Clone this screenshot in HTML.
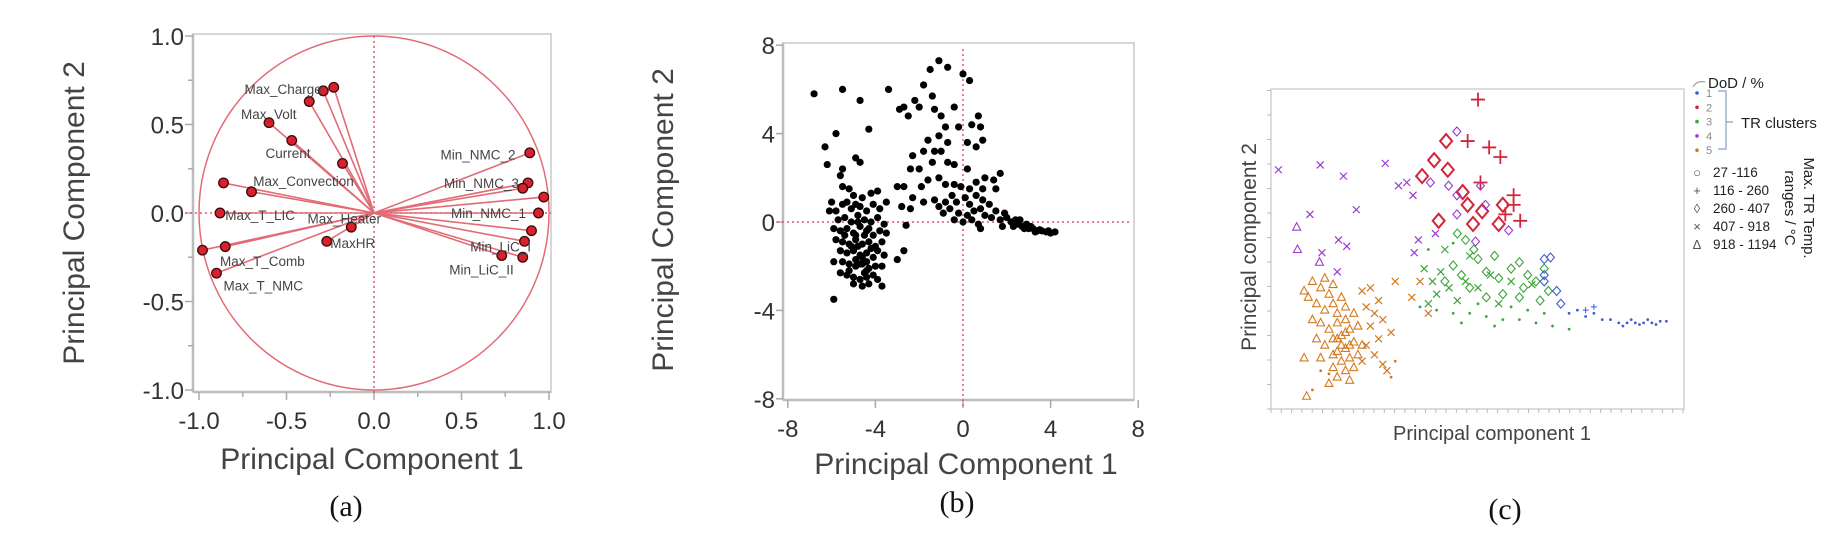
<!DOCTYPE html>
<html><head><meta charset="utf-8">
<style>
html,body{margin:0;padding:0;background:#fff;}
svg{display:block;font-family:"Liberation Sans",sans-serif;}
</style></head>
<body>
<svg id="fig" width="1843" height="536" viewBox="0 0 1843 536" xmlns="http://www.w3.org/2000/svg">
  <g id="pa"></g>
  <g id="pb"></g>
  <g id="pc"></g>
</svg>
<script>
// ---------- Panel (a) data ----------
const loadX = [-0.23,-0.29,-0.37,-0.60,-0.47,-0.18,-0.86,-0.70,-0.88,-0.98,-0.85,-0.90,-0.27,-0.13,0.89,0.88,0.85,0.97,0.94,0.90,0.86,0.85,0.73];
const loadY = [0.71,0.69,0.63,0.51,0.41,0.28,0.17,0.12,0.00,-0.21,-0.19,-0.34,-0.16,-0.08,0.34,0.17,0.14,0.09,0.00,-0.10,-0.16,-0.25,-0.24];
const varNames = ["Max_Charge","Max_Volt","Current","Max_Convection","Max_T_LIC","Max_Heater","MaxHR","Max_T_Comb","Max_T_NMC","Min_NMC_2","Min_NMC_3","Min_NMC_1","Min_LiC_I","Min_LiC_II"];
const varLabelX = [-0.74,-0.76,-0.62,-0.69,-0.85,-0.38,-0.25,-0.88,-0.86,0.38,0.40,0.44,0.55,0.43];
const varLabelY = [0.70,0.56,0.34,0.18,-0.01,-0.03,-0.17,-0.27,-0.41,0.33,0.17,0.00,-0.19,-0.32];
const aTicks = [-1.0,-0.5,0.0,0.5,1.0];
const aTickLabels = ["-1.0","-0.5","0.0","0.5","1.0"];

// ---------- Panel (b) data ----------
const scoreX = [-6.8,-5.5,-4.7,-5.8,-6.3,-6.2,-4.3,-4.9,-4.7,-5.5,-3.4,-5.9,
-1.1,-0.7,-1.5,0.0,0.3,-1.8,-1.4,-2.2,-2.9,-2.7,-2.5,-2.0,-1.3,-0.4,-1.0,0.7,0.4,0.8,-0.8,-0.2,-1.6,-1.1,0.9,-0.7,0.2,-1.8,-1.3,-1.0,0.6,-2.3,-1.4,-0.7,-0.4,-2.4,-2.0,0.2,1.7,1.0,-1.6,-1.1,1.4,-3.0,-2.7,-1.9,-0.8,-0.4,1.5,-2.3,-1.8,-2.8,-2.4,-1.3,-1.1,
-0.5,-0.3,0.1,0.3,0.5,0.2,-0.2,0.6,0.8,1.0,1.2,0.9,-0.6,-0.4,0.0,0.4,1.3,1.5,1.7,0.7,-0.8,-0.9,0.3,-0.1,0.6,0.9,1.9,1.8,0.8,
2.0,2.2,2.4,2.5,2.7,2.9,3.0,3.2,3.4,3.6,3.8,4.0,4.2,3.5,3.1,2.6,2.3,3.9,3.3,2.8,
-2.6,-2.7,-3.0,-3.5,-3.7,
-5.6,-5.5,-5.2,-5.0,-4.6,-4.2,-3.9,-6.0,-5.8,-5.5,-5.3,-5.1,-4.9,-4.7,-4.4,-4.1,-3.8,-5.7,-5.4,-5.1,-4.8,-4.5,-4.2,-3.9,-3.6,-5.9,-5.6,-5.3,-5.0,-4.7,-4.4,-4.1,-3.8,-5.8,-5.5,-5.2,-4.9,-4.6,-4.3,-4.0,-3.7,-5.6,-5.3,-5.0,-4.7,-4.4,-4.1,-3.9,-5.9,-5.5,-5.2,-4.9,-4.6,-4.3,-4.0,-3.7,-5.6,-5.3,-5.0,-4.7,-4.4,-4.1,-5.0,-4.6,-4.3,-3.9,-4.8,-4.5,-4.2,-5.4,-4.9,-4.5,-4.8,-5.2,-4.4,-6.1,-3.5,-3.6,-4.6,-4.3,-4.9,-5.1,-4.4,-4.7];
const scoreY = [5.8,6.0,5.5,4.0,3.4,2.6,4.2,2.9,2.7,2.4,6.0,-3.5,
7.3,7.0,6.9,6.7,6.4,6.2,5.7,5.5,5.1,5.2,4.8,5.2,5.1,5.2,4.8,4.8,4.4,4.3,4.3,4.3,3.7,3.9,3.7,3.6,3.6,3.2,3.2,3.2,3.4,3.0,2.7,2.7,2.6,2.4,2.4,2.4,2.2,2.0,1.9,2.0,1.9,1.6,1.6,1.6,1.7,1.7,1.5,1.1,0.9,0.7,0.6,1.0,0.7,
1.2,0.9,1.1,0.8,0.5,0.3,0.4,1.2,0.6,0.3,0.8,1.0,0.6,0.1,0.0,0.1,0.2,0.5,0.1,-0.1,0.9,0.4,1.5,1.6,1.8,1.5,0.4,-0.2,-0.3,
0.2,0.0,0.1,-0.1,-0.2,-0.1,-0.3,-0.3,-0.4,-0.4,-0.45,-0.5,-0.45,-0.35,-0.2,0.1,-0.2,-0.4,-0.45,-0.3,
-0.15,-1.3,-1.7,-0.5,-2.9,
2.1,1.6,1.5,1.2,1.1,1.3,1.4,0.9,0.5,0.8,0.9,0.6,0.8,0.7,0.5,0.8,0.6,0.1,0.2,0.0,0.3,0.1,0.0,0.2,-0.1,-0.3,-0.4,-0.3,-0.5,-0.2,-0.4,-0.6,-0.4,-0.8,-0.9,-1.0,-0.8,-1.0,-0.9,-1.1,-0.9,-1.3,-1.4,-1.3,-1.5,-1.4,-1.6,-1.3,-1.8,-1.8,-1.9,-2.0,-1.9,-2.1,-2.0,-2.0,-2.3,-2.4,-2.5,-2.6,-2.5,-2.4,-2.8,-2.9,-2.8,-2.6,-1.1,-0.6,-1.2,-0.6,-1.7,-2.3,0.0,-2.2,-1.8,0.5,0.9,-1.5,-1.6,-0.3,-0.6,-1.1,-2.2,-1.9];
const bTicks = [-8,-4,0,4,8];
const bTickLabels = ["-8","-4","0","4","8"];

// ---------- Panel (c) data (arbitrary units 0-100) ----------
const clX = [50,47.5,52.7,55.4,50.6,58.6,58.6,56.6,60.2,
42.3,39.4,42.7,36.5,46.3,47.5,51,40.5,48.8,55,56,
44.9,38.5,42.9,44.9,51.8,44.9,50.6,57.4,49.4,
1.8,11.9,17.5,27.6,30.8,32.8,34.3,9.4,20.6,12.3,18.3,16.3,16,35.6,34.6,39.7,
6.2,6.4,11.7,
8,9,10,12,13,14,15,11,13,15,17,16,18,12,14,16,18,20,11,13,15,17,19,21,16,18,20,17,19,21,15,18,20,16,14,8,8.6,10,12,19,22,17,18,16,19,15,
22,24,26,23,25,27,24,26,23,25,27,22,30,34,38,36,29,28,
12,10,14,29,30,
45,47,49,50,44,52,55,58,60,62,64,66,56,48,52,60,65,67,42,46,54,61,
37,39,41,43,40,47,50,53,58,63,55,45,38,42,48,
36,40,44,48,52,56,60,64,68,72,58,62,66,50,46,54,38,44,
66,67.5,66,69,66,70,
72,74,76,78,80,82,84,86,88,90,92,94,95.5,89,91,87,93,85,76,78];
const clY = [97,84,82,79,71,67,64,61,59,
84,78,75,73,68,64,62,59,58,58,64,
87,71,70,67,64,61,70,56,52.5,
75,76.5,73,77,70,71,67,61,62.5,49,51,53,43,53,49,55,
57,50,46,
37,35,40,38,41,36,39,33,31,33,35,30,32,27,25,27,28,30,22,20,22,23,25,26,18,19,21,15,16,17,13,12,13,10,8,16,4,28,16,9,20,20,24,22,20,17,
37,38,34,32,30,28,26,22,20,17,14,15,40,35,30,40,24,12,
12,6,11,10,15,
55,53,50,47,45,43,41,44,46,42,40,44,36,38,35,35,34,37,40,42,48,38,
44,40,43,38,36,40,38,42,40,39,33,34,33,50,48,
32,31,30,30,29,28,28,27,26,25,32,31,30,33,27,26,50,52,
47,47.5,42,37,40,33,
30,31,29,30,28,28,27,27,27,27,27,27.5,27.5,26.5,28,28,26.5,26,31,32];
const clCluster = [2,2,2,2,2,2,2,2,2, 2,2,2,2,2,2,2,2,2,2,2, 4,4,4,4,4,4,4,4,4,
4,4,4,4,4,4,4,4,4,4,4,4,4,4,4,4, 4,4,4,
5,5,5,5,5,5,5,5,5,5,5,5,5,5,5,5,5,5,5,5,5,5,5,5,5,5,5,5,5,5,5,5,5,5,5,5,5,5,5,5,5,5,5,5,5,5,
5,5,5,5,5,5,5,5,5,5,5,5,5,5,5,5,5,5, 5,5,5,5,5,
3,3,3,3,3,3,3,3,3,3,3,3,3,3,3,3,3,3,3,3,3,3,
3,3,3,3,3,3,3,3,3,3,3,3,3,3,3,
3,3,3,3,3,3,3,3,3,3,3,3,3,3,3,3,3,3,
1,1,1,1,1,1,
1,1,1,1,1,1,1,1,1,1,1,1,1,1,1,1,1,1,1,1];
const clShape = ["+","+","+","+","+","+","+","+","+", "D","D","D","D","D","D","D","D","D","D","D", "d","d","d","d","d","d","d","d","d",
"x","x","x","x","x","x","x","x","x","x","x","x","x","x","x","x", "t","t","t",
"t","t","t","t","t","t","t","t","t","t","t","t","t","t","t","t","t","t","t","t","t","t","t","t","t","t","t","t","t","t","t","t","t","t","t","t","t","t","t","t","t","t","t","t","t","t",
"x","x","x","x","x","x","x","x","x","x","x","x","x","x","x","x","x","x", "s","s","s","s","s",
"d","d","d","d","d","d","d","d","d","d","d","d","d","d","d","d","d","d","d","d","d","d",
"x","x","x","x","x","x","x","x","x","x","x","x","x","x","x",
"s","s","s","s","s","s","s","s","s","s","s","s","s","s","s","s","s","s",
"d","d","d","d","d","d",
"s","s","s","s","s","s","s","s","s","s","s","s","s","s","s","s","s","s","p","p"];
const clusterColors = ["#3a5fd0","#d0263a","#3aa53a","#9a3ad0","#d47a1e"];
const legendClusters = ["1","2","3","4","5"];
const legendRanges = ["27 -116","116 - 260","260 - 407","407 - 918","918 - 1194"];
const legendGlyphs = ["○","+","◊","×","Δ"];

const NS = "http://www.w3.org/2000/svg";
function mk(parent, tag, attrs, text){
  const e = document.createElementNS(NS, tag);
  for (const k in attrs) e.setAttribute(k, attrs[k]);
  if (text !== undefined) e.textContent = text;
  parent.appendChild(e);
  return e;
}

// ================= Panel A =================
(function(){
  const g = document.getElementById('pa');
  const L=193,T=34,R=551,B=392;
  const sx = v => 374 + v*175;
  const sy = v => 213 - v*177;
  let e;
  e = mk(g,'rect',{x:L,y:T,width:R-L,height:B-T,fill:'none',stroke:'#c8c8c8','stroke-width':1.5});
   
  mk(g,'line',{x1:L,y1:B,x2:R,y2:B,stroke:'#bdbdbd','stroke-width':2.5});
  mk(g,'line',{x1:L,y1:T,x2:L,y2:B,stroke:'#bdbdbd','stroke-width':2.5});
  for (let i=-4;i<=4;i++){
    const v=i*0.25, major = i%2===0;
    mk(g,'line',{x1:sx(v),y1:B,x2:sx(v),y2:B+(major?8:5),stroke:'#aaa','stroke-width':1.5});
    mk(g,'line',{x1:L,y1:sy(v),x2:L-(major?8:5),y2:sy(v),stroke:'#aaa','stroke-width':1.5});
  }
  aTicks.forEach((v,i)=>{
    e = mk(g,'text',{x:sx(v),y:429,'font-size':24,fill:'#333','text-anchor':'middle'},aTickLabels[i]);
     
    e = mk(g,'text',{x:184,y:sy(v)+9,'font-size':24,fill:'#333','text-anchor':'end'},aTickLabels[i]);
     
  });
  e = mk(g,'ellipse',{cx:sx(0),cy:sy(0),rx:175,ry:177,fill:'none',stroke:'#e36b76','stroke-width':1.5});
   
  mk(g,'line',{x1:sx(0),y1:T+2,x2:sx(0),y2:B+4,stroke:'#e0566a','stroke-width':1.5,'stroke-dasharray':'2,3'});
  mk(g,'line',{x1:L-8,y1:sy(0),x2:R,y2:sy(0),stroke:'#e0566a','stroke-width':1.5,'stroke-dasharray':'2,3'});
  loadX.forEach((v,i)=>{
    e = mk(g,'line',{x1:sx(0),y1:sy(0),x2:sx(v),y2:sy(loadY[i]),stroke:'#e36b76','stroke-width':1.6});
     
  });
  loadX.forEach((v,i)=>{
    e = mk(g,'circle',{cx:sx(v),cy:sy(loadY[i]),r:4.8,fill:'#d8202e',stroke:'#3a0a0a','stroke-width':1.3});
     
  });
  varNames.forEach((n,i)=>{
    e = mk(g,'text',{x:sx(varLabelX[i]),y:sy(varLabelY[i])+5,'font-size':13.5,fill:'#444'},n);
     
  });
  e = mk(g,'text',{x:372,y:469,'font-size':30,fill:'#444','text-anchor':'middle'},'Principal Component 1');
   
  e = mk(g,'text',{x:0,y:0,'font-size':30,fill:'#444','text-anchor':'middle',transform:'translate(84,213) rotate(-90)'},'Principal Component 2');
   
  e = mk(g,'text',{x:346,y:516,'font-size':30,fill:'#111','text-anchor':'middle','font-family':'Liberation Serif, serif'},'(a)');
   
})();

// ================= Panel B =================
(function(){
  const g = document.getElementById('pb');
  const L=783,T=43,R=1134,B=400;
  const sx = v => 963 + v*21.9;
  const sy = v => 222 - v*22.1;
  let e;
  e = mk(g,'rect',{x:L,y:T,width:R-L,height:B-T,fill:'none',stroke:'#c8c8c8','stroke-width':1.5});
   
  mk(g,'line',{x1:L,y1:B,x2:R,y2:B,stroke:'#bdbdbd','stroke-width':2.5});
  mk(g,'line',{x1:L,y1:T,x2:L,y2:B,stroke:'#bdbdbd','stroke-width':2.5});
  bTicks.forEach((v,i)=>{
    mk(g,'line',{x1:sx(v),y1:B,x2:sx(v),y2:B+8,stroke:'#aaa','stroke-width':1.5});
    mk(g,'line',{x1:L,y1:sy(v),x2:L-7,y2:sy(v),stroke:'#aaa','stroke-width':1.5});
    e = mk(g,'text',{x:sx(v),y:437,'font-size':24,fill:'#333','text-anchor':'middle'},bTickLabels[i]);
     
    e = mk(g,'text',{x:775,y:sy(v)+9,'font-size':24,fill:'#333','text-anchor':'end'},bTickLabels[i]);
     
  });
  mk(g,'line',{x1:sx(0),y1:T+6,x2:sx(0),y2:B+6,stroke:'#e0566a','stroke-width':1.5,'stroke-dasharray':'2,3'});
  mk(g,'line',{x1:L-6,y1:sy(0),x2:R-3,y2:sy(0),stroke:'#e0566a','stroke-width':1.5,'stroke-dasharray':'2,3'});
  scoreX.forEach((v,i)=>{
    e = mk(g,'circle',{cx:sx(v),cy:sy(scoreY[i]),r:3.6,fill:'#000'});
     
  });
  e = mk(g,'text',{x:966,y:474,'font-size':30,fill:'#444','text-anchor':'middle'},'Principal Component 1');
   
  e = mk(g,'text',{x:0,y:0,'font-size':30,fill:'#444','text-anchor':'middle',transform:'translate(673,220) rotate(-90)'},'Principal Component 2');
   
  e = mk(g,'text',{x:957,y:512,'font-size':30,fill:'#111','text-anchor':'middle','font-family':'Liberation Serif, serif'},'(b)');
   
})();

// ================= Panel C =================
(function(){
  const g = document.getElementById('pc');
  const L=1271,T=89,R=1684,B=409;
  const sx = v => L + v*4.14;
  const sy = v => B - v*3.19;
  let e;
  e = mk(g,'rect',{x:L,y:T,width:R-L,height:B-T,fill:'none',stroke:'#d0d0d0','stroke-width':1.5});
   
  for (let x=L;x<=R;x+=10.3) mk(g,'line',{x1:x,y1:B,x2:x,y2:B+4,stroke:'#bbb','stroke-width':1});
  for (let y=B;y>=T;y-=24.5) mk(g,'line',{x1:L,y1:y,x2:L-4,y2:y,stroke:'#bbb','stroke-width':1});
  clX.forEach((v,i)=>{
    const x=sx(v), y=sy(clY[i]), c=clusterColors[clCluster[i]-1], s=clShape[i];
    let el;
    if (s==='+'){ el = mk(g,'path',{d:`M${x-7},${y}H${x+7}M${x},${y-7}V${y+7}`,stroke:c,'stroke-width':1.8,fill:'none'}); }
    else if (s==='p'){ el = mk(g,'path',{d:`M${x-3},${y}H${x+3}M${x},${y-3}V${y+3}`,stroke:c,'stroke-width':1,fill:'none'}); }
    else if (s==='D'){ el = mk(g,'path',{d:`M${x},${y-7}L${x+6},${y}L${x},${y+7}L${x-6},${y}Z`,stroke:c,'stroke-width':2,fill:'none'}); }
    else if (s==='d'){ el = mk(g,'path',{d:`M${x},${y-4.5}L${x+4},${y}L${x},${y+4.5}L${x-4},${y}Z`,stroke:c,'stroke-width':1.1,fill:'none'}); }
    else if (s==='x'){ el = mk(g,'path',{d:`M${x-3.5},${y-3.5}L${x+3.5},${y+3.5}M${x+3.5},${y-3.5}L${x-3.5},${y+3.5}`,stroke:c,'stroke-width':1.2,fill:'none'}); }
    else if (s==='t'){ el = mk(g,'path',{d:`M${x},${y-4.5}L${x+4},${y+3}L${x-4},${y+3}Z`,stroke:c,'stroke-width':1.1,fill:'none'}); }
    else { el = mk(g,'circle',{cx:x,cy:y,r:1.4,fill:c}); }
     
  });
  // legend
  e = mk(g,'path',{d:'M1693,87 Q1697,80 1705,82',stroke:'#999','stroke-width':1.2,fill:'none'});
  e = mk(g,'text',{x:1708,y:88,'font-size':15,fill:'#222'},'DoD / %');
   
  legendClusters.forEach((t,i)=>{
    const y = 93 + i*14.3;
    e = mk(g,'circle',{cx:1697,cy:y,r:1.8,fill:clusterColors[i]});
     
    mk(g,'text',{x:1706,y:y+4,'font-size':11,fill:'#888'},t);
  });
  e = mk(g,'path',{d:'M1718,91 H1726 V149 H1718 M1726,122 H1733',stroke:'#8aa0c0','stroke-width':1.2,fill:'none'});
   
  e = mk(g,'text',{x:1741,y:128,'font-size':15,fill:'#222'},'TR clusters');
   
  legendRanges.forEach((t,i)=>{
    const y = 172 + i*18;
    e = mk(g,'text',{x:1697,y:y+5,'font-size':13,fill:'#555','text-anchor':'middle'},legendGlyphs[i]);
     
    mk(g,'text',{x:1713,y:y+5,'font-size':13.5,fill:'#222'},t);
  });
  e = mk(g,'text',{x:0,y:0,'font-size':15,fill:'#222','text-anchor':'middle',transform:'translate(1804,208) rotate(90)'},'Max. TR Temp.');
   
  e = mk(g,'text',{x:0,y:0,'font-size':15,fill:'#222','text-anchor':'middle',transform:'translate(1785,208) rotate(90)'},'ranges / °C');
   
  e = mk(g,'text',{x:1492,y:440,'font-size':20,fill:'#444','text-anchor':'middle'},'Principal component 1');
   
  e = mk(g,'text',{x:0,y:0,'font-size':21,fill:'#444','text-anchor':'middle',transform:'translate(1256,247) rotate(-90)'},'Principal component 2');
   
  e = mk(g,'text',{x:1505,y:519,'font-size':30,fill:'#111','text-anchor':'middle','font-family':'Liberation Serif, serif'},'(c)');
   
})();
</script>
</body></html>
